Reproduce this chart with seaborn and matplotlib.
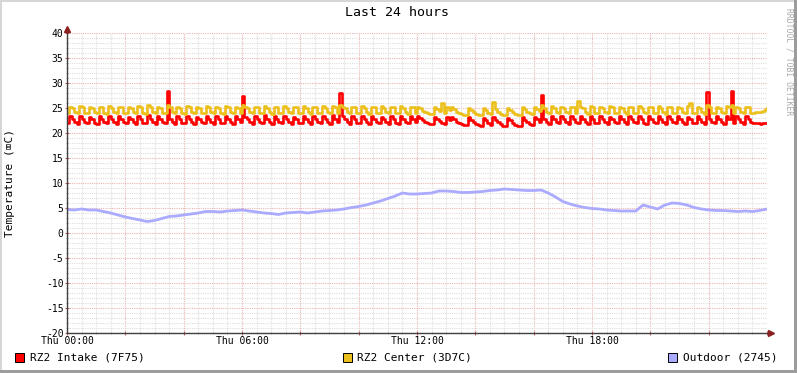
import numpy as np
import pandas as pd
import matplotlib
matplotlib.use("Agg")
import matplotlib.pyplot as plt
import seaborn as sns
from matplotlib.patches import Rectangle
from matplotlib.ticker import MultipleLocator, FuncFormatter

# 5-minute samples over 24 hours (289 points)
intake = [
    22.0, 23.4, 22.9, 22.2, 21.9, 23.5, 22.8, 22.2, 22.0, 23.3, 22.9, 22.1,
    21.9, 23.4, 22.8, 22.2, 22.0, 23.5, 22.9, 22.3, 21.9, 23.4, 22.8, 22.2,
    22.0, 23.3, 22.9, 22.2, 21.9, 23.4, 22.8, 22.1, 22.0, 23.7, 22.9, 22.2,
    21.9, 23.4, 22.8, 22.2, 22.0, 28.4, 22.9, 22.2, 21.9, 23.4, 22.8, 22.1,
    22.0, 23.5, 22.9, 22.3, 21.9, 23.3, 22.8, 22.2, 22.0, 23.4, 22.9, 22.2,
    21.9, 23.4, 22.8, 22.1, 22.0, 23.5, 22.9, 22.2, 21.9, 23.4, 22.8, 22.2,
    27.4, 23.3, 22.9, 22.2, 21.9, 23.4, 22.8, 22.2, 22.0, 23.6, 22.9, 22.3,
    21.9, 23.4, 22.8, 22.2, 22.0, 23.5, 22.9, 22.2, 21.9, 23.3, 22.8, 22.1,
    22.0, 23.4, 22.9, 22.2, 21.9, 23.5, 22.8, 22.3, 22.0, 23.4, 22.9, 22.2,
    21.9, 23.6, 22.8, 22.2, 28.0, 23.4, 22.9, 22.2, 21.9, 23.4, 22.8, 22.1,
    22.0, 23.5, 22.9, 22.2, 21.9, 23.4, 22.8, 22.2, 22.0, 23.3, 22.9, 22.3,
    21.9, 23.4, 22.8, 22.1, 21.9, 23.5, 22.8, 22.2, 22.0, 23.4, 22.9, 22.2,
    23.4, 23.0, 22.6, 22.2, 22.0, 21.9, 21.8, 23.3, 22.9, 22.4, 22.0, 21.8,
    23.2, 22.6, 23.3, 22.8, 22.3, 22.0, 21.8, 21.7, 21.6, 23.2, 22.7, 22.2,
    21.8, 21.6, 21.5, 23.1, 22.6, 22.1, 21.7, 23.2, 22.7, 22.2, 21.8, 21.5,
    21.4, 23.1, 22.6, 22.1, 21.7, 21.5, 21.4, 23.2, 22.7, 22.2, 21.9, 21.7,
    23.3, 22.8, 22.3, 27.6, 22.8, 22.2, 21.9, 23.4, 22.8, 22.2, 22.0, 23.4,
    22.9, 22.2, 21.9, 23.4, 22.8, 22.2, 22.0, 23.5, 22.9, 22.2, 21.9, 23.4,
    22.8, 22.1, 22.0, 23.4, 22.9, 22.2, 21.9, 23.3, 22.8, 22.2, 22.0, 23.5,
    22.9, 22.3, 21.9, 23.4, 22.8, 22.2, 22.0, 23.4, 22.9, 22.1, 21.9, 23.4,
    22.8, 22.2, 22.0, 23.5, 22.9, 22.2, 21.9, 23.4, 22.8, 22.2, 22.0, 23.4,
    22.9, 22.2, 21.9, 23.3, 22.8, 22.1, 22.0, 23.4, 22.9, 22.2, 21.9, 28.2,
    22.8, 22.2, 22.0, 23.4, 22.9, 22.2, 21.9, 23.5, 22.8, 28.4, 22.0, 23.4,
    22.9, 22.2, 21.9, 23.4, 22.8, 22.2, 22.0, 22.1, 22.0, 21.9, 22.0, 22.0,
    22.0,
]

center = [
    24.0, 25.3, 25.1, 24.2, 24.0, 25.4, 25.2, 24.1, 24.0, 25.3, 25.1, 24.2,
    24.0, 25.3, 25.2, 24.1, 23.9, 25.5, 25.1, 24.2, 24.0, 25.3, 25.2, 24.1,
    24.0, 25.2, 25.1, 24.2, 24.0, 25.4, 25.2, 24.1, 23.9, 25.6, 25.2, 24.2,
    24.0, 25.3, 25.1, 24.1, 24.0, 25.6, 25.2, 24.2, 24.0, 25.3, 25.1, 24.1,
    23.9, 25.4, 25.2, 24.2, 24.0, 25.3, 25.1, 24.1, 24.0, 25.4, 25.2, 24.2,
    24.0, 25.3, 25.1, 24.1, 23.9, 25.5, 25.2, 24.2, 24.0, 25.3, 25.1, 24.1,
    25.6, 25.2, 25.1, 24.2, 24.0, 25.3, 25.2, 24.1, 24.0, 25.5, 25.1, 24.2,
    23.9, 25.3, 25.2, 24.1, 24.0, 25.4, 25.1, 24.2, 24.0, 25.3, 25.2, 24.1,
    24.0, 25.4, 25.1, 24.2, 23.9, 25.3, 25.2, 24.1, 24.0, 25.4, 25.1, 24.2,
    24.0, 25.5, 25.2, 24.1, 25.7, 25.3, 25.1, 24.2, 24.0, 25.3, 25.2, 24.1,
    24.0, 25.4, 25.1, 24.2, 23.9, 25.3, 25.2, 24.1, 24.0, 25.5, 25.1, 24.2,
    24.0, 25.3, 25.2, 24.1, 24.0, 25.4, 25.1, 24.2, 23.9, 25.3, 25.2, 24.1,
    25.3, 25.0, 24.5, 24.2, 24.0, 23.9, 23.8, 25.2, 24.9, 24.4, 26.0, 24.0,
    25.2, 24.6, 25.3, 24.8, 24.3, 24.0, 23.8, 23.7, 23.6, 25.1, 24.7, 24.2,
    23.9, 23.7, 23.6, 25.0, 24.6, 24.1, 23.8, 26.3, 24.8, 24.3, 23.9, 23.7,
    23.6, 25.1, 24.7, 24.2, 23.9, 23.7, 23.6, 25.2, 24.8, 24.3, 24.0, 23.8,
    25.3, 24.9, 24.4, 25.6, 25.1, 24.2, 24.0, 25.4, 25.1, 24.2, 24.0, 25.3,
    25.1, 24.2, 24.0, 25.3, 25.2, 24.1, 26.4, 25.2, 25.1, 24.2, 23.9, 25.4,
    25.2, 24.1, 24.0, 25.3, 25.1, 24.2, 24.0, 25.4, 25.2, 24.1, 24.0, 25.3,
    25.1, 24.2, 23.9, 25.3, 25.2, 24.1, 24.0, 25.5, 25.1, 24.2, 24.0, 25.3,
    25.2, 24.1, 24.0, 25.4, 25.1, 24.2, 23.9, 25.3, 25.2, 24.1, 24.0, 25.3,
    25.1, 24.2, 24.0, 25.4, 26.0, 24.1, 24.0, 25.3, 25.1, 24.2, 23.9, 25.6,
    25.2, 24.1, 24.0, 25.3, 25.1, 24.2, 24.0, 25.4, 25.2, 25.6, 24.0, 25.3,
    25.1, 24.2, 24.0, 25.3, 25.2, 24.1, 24.0, 24.2, 24.3, 24.2, 24.5, 24.8,
    25.0,
]

# 15-minute samples (97 points)
outdoor = [
    4.7, 4.6, 4.8, 4.6, 4.6, 4.3, 4.0, 3.6, 3.2, 2.9, 2.6, 2.3,
    2.5, 2.9, 3.3, 3.4, 3.6, 3.8, 4.0, 4.3, 4.3, 4.2, 4.4, 4.5,
    4.6, 4.4, 4.2, 4.0, 3.9, 3.7, 4.0, 4.1, 4.2, 4.0, 4.2, 4.4,
    4.5, 4.6, 4.8, 5.1, 5.3, 5.6, 6.0, 6.4, 6.9, 7.4, 8.0, 7.8,
    7.8, 7.9, 8.0, 8.4, 8.4, 8.3, 8.1, 8.1, 8.2, 8.3, 8.5, 8.6,
    8.8, 8.7, 8.6, 8.5, 8.5, 8.6, 8.0, 7.2, 6.3, 5.8, 5.4, 5.1,
    4.9, 4.8, 4.6, 4.5, 4.4, 4.4, 4.4, 5.6, 5.2, 4.8, 5.6, 6.0,
    5.9, 5.6, 5.1, 4.8, 4.6, 4.5, 4.5, 4.4, 4.3, 4.4, 4.3, 4.5,
    4.8,
]

labels = ["RZ2 Intake (7F75)", "RZ2 Center (3D7C)", "Outdoor (2745)"]
colors = ["#ff0000", "#ecc01c", "#aaaaff"]

fine = pd.DataFrame({"hour": np.arange(len(intake)) * 5 / 60,
                     "intake": intake, "center": center})
coarse = pd.DataFrame({"hour": np.arange(len(outdoor)) * 15 / 60,
                       "outdoor": outdoor})

W, H = 797, 373
plt.rcParams["font.family"] = ["DejaVu Sans Mono", "DejaVu Sans"]
fig = plt.figure(figsize=(W / 100, H / 100), dpi=100, facecolor="white")
ax = fig.add_axes([67 / W, (H - 333) / H, 700 / W, 300 / H])

sns.lineplot(data=fine, x="hour", y="intake", color=colors[0], linewidth=1.9,
             drawstyle="steps-post", ax=ax)
sns.lineplot(data=fine, x="hour", y="center", color=colors[1], linewidth=1.9,
             drawstyle="steps-post", ax=ax)
sns.lineplot(data=coarse, x="hour", y="outdoor", color=colors[2], linewidth=2.0,
             ax=ax)

ax.set_xlim(0, 24)
ax.set_ylim(-20, 40)
ax.set_xlabel("")
ax.set_ylabel("")

ax.xaxis.set_major_locator(MultipleLocator(2))
ax.xaxis.set_minor_locator(MultipleLocator(0.5))
ax.yaxis.set_major_locator(MultipleLocator(5))
ax.yaxis.set_minor_locator(MultipleLocator(1))
ax.xaxis.set_major_formatter(FuncFormatter(
    lambda v, p: f"Thu {int(v):02d}:00" if v % 6 == 0 and v < 24 else ""))
ax.yaxis.set_major_formatter(FuncFormatter(lambda v, p: f"{int(v)}"))

ax.grid(which="major", color="#ecb4b4", linestyle=(0, (1, 1)), linewidth=0.8)
ax.grid(which="minor", color="#dedede", linestyle=(0, (1, 1)), linewidth=0.8)
ax.set_axisbelow(True)
ax.tick_params(which="major", length=3, width=0.8, color="#c06060",
               direction="inout", labelsize=7, pad=1)
ax.tick_params(which="minor", length=2, width=0.6, color="#b0b0b0",
               direction="inout")
for s in ax.spines.values():
    s.set_visible(False)

# axes with arrows
ax.plot([0, 1.006], [0, 0], transform=ax.transAxes, clip_on=False,
        color="#404040", lw=1.0)
ax.plot([0, 0], [0, 1.012], transform=ax.transAxes, clip_on=False,
        color="#404040", lw=1.0)
ax.plot([1.006], [0], marker=">", ms=4, color="#8b2020", transform=ax.transAxes,
        clip_on=False)
ax.plot([0], [1.012], marker="^", ms=4, color="#8b2020", transform=ax.transAxes,
        clip_on=False)

fig.text(397 / W, 1 - 13 / H, "Last 24 hours", ha="center", va="center",
         fontsize=9.5)
fig.text(10 / W, 1 - 183 / H, "Temperature (\u2327C)", rotation=90,
         ha="center", va="center", fontsize=8)
fig.text(789 / W, 1 - 8 / H, "RRDTOOL / TOBI OETIKER", rotation=270,
         ha="center", va="top", fontsize=5.8, color="#a8a8a8")

# legend
for (sx, tx), lab, col in zip([(15, 30), (343, 357), (668, 683)], labels, colors):
    fig.patches.append(Rectangle((sx / W, 1 - 362 / H), 9 / W, 9 / H,
                                 transform=fig.transFigure, facecolor=col,
                                 edgecolor="black", linewidth=0.7))
    fig.text(tx / W, 1 - 358 / H, lab, ha="left", va="center", fontsize=8)

# frame
fig.patches.append(Rectangle((0, 1 - 2 / H), 1, 2 / H, transform=fig.transFigure,
                             facecolor="#d6d6d6", edgecolor="none"))
fig.patches.append(Rectangle((0, 0), 2 / W, 1, transform=fig.transFigure,
                             facecolor="#d6d6d6", edgecolor="none"))
fig.patches.append(Rectangle((1 - 3 / W, 0), 3 / W, 1, transform=fig.transFigure,
                             facecolor="#9c9c9c", edgecolor="none"))
fig.patches.append(Rectangle((0, 0), 1, 3 / H, transform=fig.transFigure,
                             facecolor="#9c9c9c", edgecolor="none"))

fig.savefig("out.png", dpi=100, facecolor="white")
